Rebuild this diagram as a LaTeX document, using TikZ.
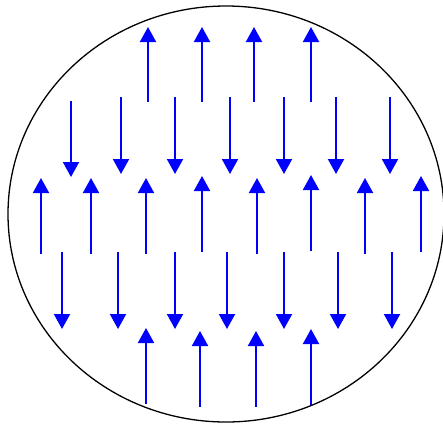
\documentclass[tikz,border=0pt]{standalone}
\usepackage{tikz}
\usetikzlibrary{arrows.meta}

\begin{document}
\begin{tikzpicture}[x=1pt,y=-1pt]
        \useasboundingbox (0,0) rectangle (443,423);
        \tikzset{spin/.style={blue,line width=2pt,-{Triangle[length=15pt,width=16pt]}}}

        %------------------
        % 外枠
        %------------------
        \draw[line width=1.3pt] (226,214) ellipse (218 and 208);

        %------------------
        % 上向き (x / 始点y / 終点y)
        %------------------
        \foreach \x/\a/\b in {148/102/27, 202/102/27, 254/102/27, 311/102/27}
          \draw[spin] (\x,\a) -- (\x,\b);

        \foreach \x/\a/\b in {41/254/178, 91/254/178, 146/254/178, 202/252/176,
                              257/254/178, 311/251/175, 365/254/178, 421/252/176}
          \draw[spin] (\x,\a) -- (\x,\b);

        \foreach \x/\a/\b in {146/404/328, 200/407/331, 256/407/331, 311/405/329}
          \draw[spin] (\x,\a) -- (\x,\b);

        %------------------
        % 下向き
        %------------------
        \foreach \x/\a/\b in {71/101/177, 121/97/174, 175/97/174, 230/97/174,
                              284/97/174, 336/97/174, 390/97/174}
          \draw[spin] (\x,\a) -- (\x,\b);

        \foreach \x/\a/\b in {62/252/329, 118/252/329, 175/252/329, 227/252/329,
                              284/252/329, 338/252/329, 392/252/329}
          \draw[spin] (\x,\a) -- (\x,\b);
      \end{tikzpicture}
\end{document}
